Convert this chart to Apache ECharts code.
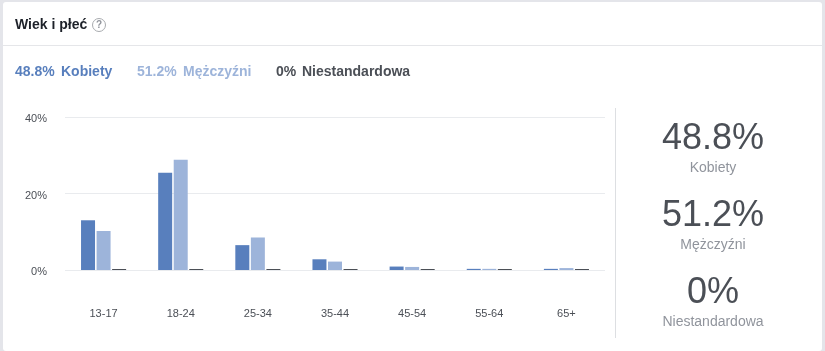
<!DOCTYPE html>
<html>
<head>
<meta charset="utf-8">
<title>Wiek i płeć</title>
<script src="https://cdn.jsdelivr.net/npm/echarts@6/dist/echarts.min.js"></script>
<style>
html, body { margin: 0; padding: 0; background: #fff; }
#chart { width: 825px; height: 351px; }
</style>
</head>
<body>
<div id="chart"></div>
<script>
var categories = ['13-17', '18-24', '25-34', '35-44', '45-54', '55-64', '65+'];
var kobiety = [13.0, 25.4, 6.5, 2.8, 0.9, 0.3, 0.3];
var mezczyzni = [10.2, 28.8, 8.5, 2.2, 0.8, 0.3, 0.5];
var niestandardowa = [0.1, 0.1, 0.1, 0.1, 0.1, 0.1, 0.1];
var seriesNames = ['Kobiety', 'Mężczyźni', 'Niestandardowa'];
var shares = ['48.8%', '51.2%', '0%'];
var yTicks = [0, 20, 40];

var font = '"Liberation Sans", Arial, sans-serif';
var colors = ['#587fbd', '#9db4da', '#4b4f56'];

function txt(x, y, text, size, color, weight, align) {
	return {
		type: 'text',
		x: x,
		y: y,
		style: {
			text: text,
			fontFamily: font,
			fontSize: size,
			fontWeight: weight || 'normal',
			fill: color,
			align: align || 'left',
			verticalAlign: 'middle'
		}
	};
}

var graphics = [
	// ramka karty
	{ type: 'rect', shape: { x: 0, y: 0, width: 825, height: 351 }, style: { fill: '#e4e5ea' }, z: -10 },
	{ type: 'rect', shape: { x: 3, y: 2, width: 819, height: 349, r: 3 }, style: { fill: '#fff' }, z: -9 },
	{ type: 'rect', shape: { x: 3, y: 45, width: 819, height: 1 }, style: { fill: '#e5e6e9' }, z: -8 },
	{ type: 'rect', shape: { x: 615, y: 108, width: 1, height: 230 }, style: { fill: '#dddfe2' }, z: -8 },
	txt(15, 25, 'Wiek i płeć', 14, '#1d2129', 'bold'),
	{ type: 'circle', shape: { cx: 99, cy: 25, r: 6.5 }, style: { fill: '#fff', stroke: '#a8abaf', lineWidth: 1 } },
	txt(99, 25.5, '?', 10, '#90949c', 'bold', 'center'),
	// legenda
	txt(15, 72, shares[0], 14, colors[0], 'bold'),
	txt(61, 72, seriesNames[0], 14, colors[0], 'bold'),
	txt(137, 72, shares[1], 14, colors[1], 'bold'),
	txt(183, 72, seriesNames[1], 14, colors[1], 'bold'),
	txt(276, 72, shares[2], 14, '#4b4f56', 'bold'),
	txt(302, 72, seriesNames[2], 14, '#4b4f56', 'bold'),
	// podsumowanie po prawej
	txt(713, 139, shares[0], 36, '#4b4f56', 'normal', 'center'),
	txt(713, 168, seriesNames[0], 14, '#90949c', 'normal', 'center'),
	txt(713, 216, shares[1], 36, '#4b4f56', 'normal', 'center'),
	txt(713, 245, seriesNames[1], 14, '#90949c', 'normal', 'center'),
	txt(713, 293, shares[2], 36, '#4b4f56', 'normal', 'center'),
	txt(713, 322, seriesNames[2], 14, '#90949c', 'normal', 'center')
];

function barSeries(i, values) {
	return {
		name: seriesNames[i],
		type: 'bar',
		data: values,
		barWidth: 14,
		barGap: '11%',
		barMinHeight: 1,
		itemStyle: { color: colors[i] }
	};
}

var myChart = echarts.init(document.getElementById('chart'));
myChart.setOption({
	animation: false,
	textStyle: { fontFamily: font },
	grid: { left: 65, right: 220, top: 117, height: 153 },
	xAxis: {
		type: 'category',
		data: categories,
		axisLine: { show: false },
		axisTick: { show: false },
		axisLabel: { color: '#4b4f56', fontSize: 11, margin: 38, fontFamily: font }
	},
	yAxis: {
		type: 'value',
		min: 0,
		max: 40,
		interval: 20,
		axisLine: { show: false },
		axisTick: { show: false },
		axisLabel: {
			margin: 18,
			formatter: function (v) { return yTicks.indexOf(v) >= 0 ? '{v|' + v + '%}' : ''; },
			rich: {
				v: { color: '#4b4f56', fontSize: 11, fontFamily: font, padding: [4, 0, 0, 0] }
			}
		},
		splitLine: { lineStyle: { color: '#e9ebee', width: 1 } }
	},
	series: [
		barSeries(0, kobiety),
		barSeries(1, mezczyzni),
		barSeries(2, niestandardowa)
	],
	graphic: graphics
});
</script>
</body>
</html>
